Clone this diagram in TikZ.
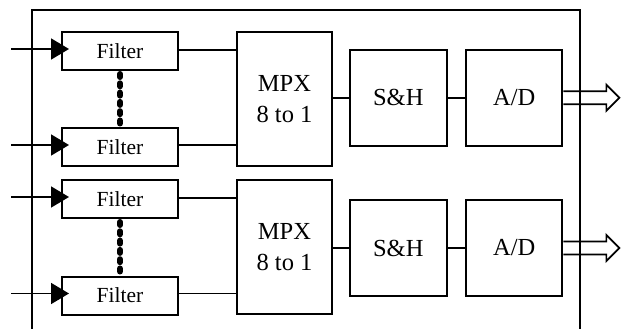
\documentclass[tikz,border=0pt]{standalone}
\usepackage{fontspec}
\setmainfont{Liberation Serif}
\usetikzlibrary{arrows.meta,calc}
\begin{document}
\begin{tikzpicture}[x=1pt,y=-1pt,line width=1.8pt,
  blk/.style={draw,line width=2pt,inner sep=0pt,align=center,font=\fontsize{24.5}{31.5}\selectfont},
  filt/.style={draw,line width=2pt,inner sep=0pt,minimum width=116pt,minimum height=38pt,font=\fontsize{21.5}{24}\selectfont},
  inarrow/.style={-{Triangle[length=18pt,width=21pt]},line width=1.8pt},
  dots/.style={line width=6pt,line cap=round,dash pattern=on 3pt off 6.3pt},
  wire/.style={line width=1.8pt}]
\useasboundingbox (0,0) rectangle (622,329);
% outer enclosure
\draw[line width=1.8pt] (32,329) -- (32,10) -- (580,10) -- (580,329);
% filters
\node[filt] (f1) at (120,51) {Filter};
\node[filt] (f2) at (120,147) {Filter};
\node[filt] (f3) at (120,199) {Filter};
\node[filt] (f4) at (120,295.5) {Filter};
% multiplexers
\node[blk,minimum width=95.6pt,minimum height=134pt] (m1) at (284.5,99) {MPX\\8 to 1};
\node[blk,minimum width=95.6pt,minimum height=134pt] (m2) at (284.5,247) {MPX\\8 to 1};
% sample and hold
\node[blk,minimum width=96.7pt,minimum height=95.7pt] (s1) at (398.3,97.8) {S\&H};
\node[blk,minimum width=96.7pt,minimum height=95.7pt] (s2) at (398.3,248) {S\&H};
% A/D
\node[blk,minimum width=96.3pt,minimum height=95.7pt] (a1) at (514.2,97.8) {A/D};
\node[blk,minimum width=96.3pt,minimum height=95.7pt] (a2) at (514.2,248) {A/D};
% input arrows
\foreach \f in {f1,f2,f3,f4}{
  \coordinate (in\f) at ($(\f.west)+(-50,-2)$);
  \coordinate (tip\f) at ($(\f.west)+(8,-2)$);
  \draw[inarrow] (in\f) -- (tip\f);
}
% dotted links between filters
\draw[dots] ($(f1.south)+(0,3)$) -- ($(f2.north)+(0,-3)$);
\draw[dots] ($(f3.south)+(0,3)$) -- ($(f4.north)+(0,-3)$);
% filter outputs to MPX
\draw[wire] ($(f1.east)+(0,-1)$) -- ($(f1.east -| m1.west)+(0,-1)$);
\draw[wire] ($(f2.east)+(0,-2)$) -- ($(f2.east -| m1.west)+(0,-2)$);
\draw[wire] ($(f3.east)+(0,-1)$) -- ($(f3.east -| m2.west)+(0,-1)$);
\draw[wire] ($(f4.east)+(0,-2)$) -- ($(f4.east -| m2.west)+(0,-2)$);
% chain
\draw[wire] (m1.east |- s1.west) -- (s1.west);
\draw[wire] (s1.east) -- (a1.west);
\draw[wire] (m2.east |- s2.west) -- (s2.west);
\draw[wire] (s2.east) -- (a2.west);
% hollow output arrows
\foreach \a in {a1,a2}{
  \draw[line width=1.7pt,line join=miter,shift={(\a.east)}]
    (0,-6.5) -- (43,-6.5) -- (43,-13) -- (56,0) -- (43,13) -- (43,6.5) -- (0,6.5);
}
\end{tikzpicture}
\end{document}
